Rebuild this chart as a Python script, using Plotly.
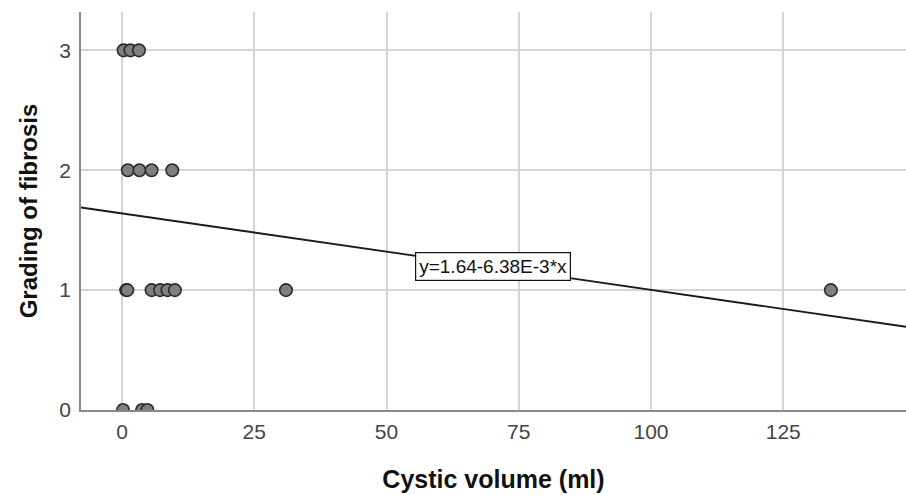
import plotly.graph_objects as go

# Data
volume = [0.3, 1.6, 3.2,
          1.1, 3.3, 5.6, 9.5,
          0.8, 1.0, 5.6, 7.2, 8.6, 10.0, 31.0, 134.0,
          0.2, 3.8, 4.8]
fibrosis = [3, 3, 3,
            2, 2, 2, 2,
            1, 1, 1, 1, 1, 1, 1, 1,
            0, 0, 0]
intercept = 1.64
slope = -6.38e-3
x_range = [-7.75, 148.2]
x_ticks = [0, 25, 50, 75, 100, 125]
y_ticks = [0, 1, 2, 3]
fit_label = "y=1.64-6.38E-3*x"

fit_x = x_range
fit_y = [intercept + slope * v for v in fit_x]

FONT = "Liberation Sans, Arial"

fig = go.Figure()
fig.add_trace(go.Scatter(
    x=fit_x, y=fit_y, mode="lines",
    line=dict(color="#1a1a1a", width=1.8),
    hoverinfo="skip", showlegend=False))
fig.add_trace(go.Scatter(
    x=volume, y=fibrosis, mode="markers",
    marker=dict(size=12.5, color="#7f7f7f", line=dict(color="#2b2b2b", width=1.6)),
    showlegend=False))

fig.add_annotation(
    x=70.1, y=1.2, xref="x", yref="y", text=fit_label, showarrow=False,
    font=dict(family=FONT, size=19, color="#111"),
    bordercolor="#111", borderwidth=1.2, bgcolor="white", borderpad=3)

fig.update_layout(
    width=906, height=495,
    margin=dict(l=81, r=0, t=12, b=85),
    plot_bgcolor="white", paper_bgcolor="white",
    font=dict(family=FONT, color="#444"),
    xaxis=dict(range=x_range, tickvals=x_ticks, showgrid=True, gridcolor="#d4d4d4",
               gridwidth=1.5, zeroline=False, showline=True, linecolor="#888",
               linewidth=1.5, tickfont=dict(size=21, color="#444"), ticks="",
               ticklabelstandoff=2,
               title=dict(text="<b>Cystic volume (ml)</b>", font=dict(size=25, color="#111"),
                          standoff=29)),
    yaxis=dict(range=[0, 3.32], tickvals=y_ticks, showgrid=True, gridcolor="#d4d4d4",
               gridwidth=1.5, zeroline=False, showline=True, linecolor="#888",
               linewidth=1.5, tickfont=dict(size=21, color="#444"), ticks="",
               ticklabelstandoff=4,
               title=dict(text="<b>Grading of fibrosis</b>", font=dict(size=24, color="#111"),
                          standoff=15)),
)

fig.write_html("out.html", config={"displayModeBar": False},
               post_script="document.body.style.margin='0';document.body.style.overflow='hidden';")
